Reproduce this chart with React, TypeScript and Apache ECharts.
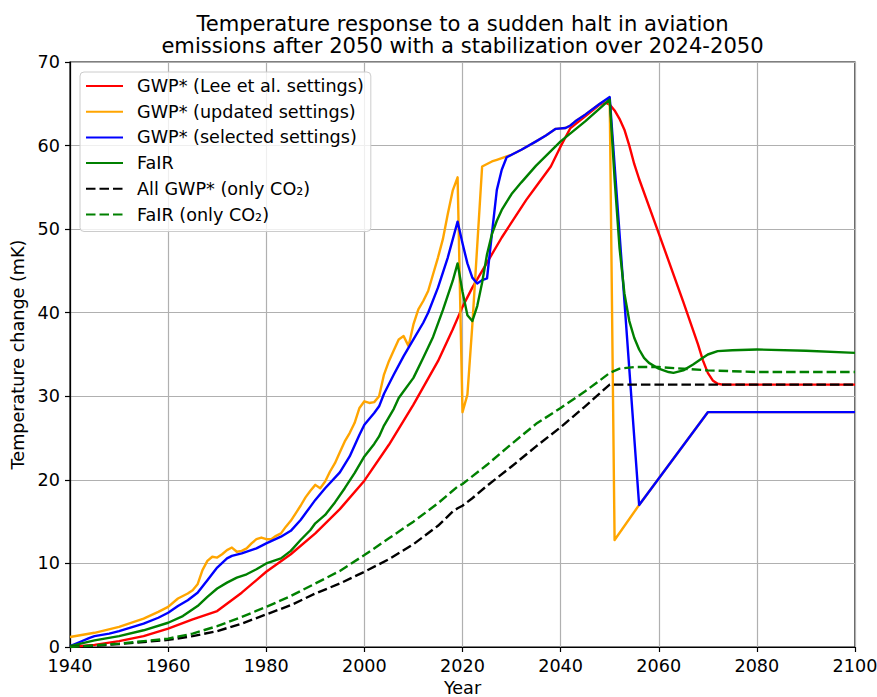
import React, { useEffect, useRef } from "react";
import * as echarts from "echarts";

const FONT = "DejaVu Sans";

const xTicks = { min: 1940, max: 2100, interval: 20 };
const yTicks = { min: 0, max: 70, interval: 10 };

const titleLines = [
  "Temperature response to a sudden halt in aviation",
  "emissions after 2050 with a stabilization over 2024-2050",
];

const seriesNames = [
  "GWP* (Lee et al. settings)",
  "GWP* (updated settings)",
  "GWP* (selected settings)",
  "FaIR",
  "All GWP* (only CO₂)",
  "FaIR (only CO₂)",
];

const leeSettings: [number, number][] = [
  [1940, 0], [1945, 0.25], [1950, 0.7], [1955, 1.3], [1960, 2.2], [1965, 3.3], [1970, 4.3],
  [1975, 6.5], [1980, 9.0], [1985, 11.1], [1990, 13.6], [1995, 16.5], [2000, 19.9],
  [2005, 24.2], [2010, 29.0], [2015, 34.2], [2018, 38.0], [2020, 40.7], [2022, 43.0],
  [2025, 46.0], [2028, 49.0], [2030, 50.8], [2033, 53.5], [2035, 55.1], [2038, 57.5],
  [2040, 59.9], [2042, 62.1], [2045, 63.5], [2048, 64.9], [2049, 65.2], [2050, 64.9],
  [2051, 64.2], [2052, 63.2], [2053, 61.9], [2054, 60.0], [2055, 57.8], [2056, 56.0],
  [2060, 49.5], [2065, 41.3], [2068, 36.2], [2069, 34.3], [2070, 32.8], [2071, 31.9],
  [2072, 31.5], [2073, 31.4], [2100, 31.4],
];

const updatedSettings: [number, number][] = [
  [1940, 1.2], [1945, 1.7], [1950, 2.4], [1955, 3.4], [1958, 4.2], [1960, 4.8], [1962, 5.8],
  [1964, 6.4], [1965, 6.8], [1966, 7.5], [1967, 9.2], [1968, 10.3], [1969, 10.8], [1970, 10.7],
  [1971, 11.1], [1972, 11.6], [1973, 11.9], [1974, 11.4], [1975, 11.5], [1976, 11.8],
  [1977, 12.4], [1978, 12.9], [1979, 13.1], [1980, 12.9], [1981, 12.9], [1982, 13.3],
  [1983, 13.6], [1984, 14.4], [1985, 15.1], [1986, 16.0], [1987, 16.9], [1988, 17.9],
  [1989, 18.7], [1990, 19.4], [1991, 19.0], [1992, 19.8], [1993, 21.0], [1994, 22.0],
  [1995, 23.3], [1996, 24.6], [1997, 25.6], [1998, 26.8], [1999, 28.6], [2000, 29.4],
  [2001, 29.2], [2002, 29.3], [2003, 30.0], [2004, 32.6], [2005, 34.2], [2006, 35.5],
  [2007, 36.8], [2008, 37.2], [2009, 36.0], [2010, 38.6], [2011, 40.4], [2012, 41.4],
  [2013, 42.6], [2014, 44.6], [2015, 46.6], [2016, 48.8], [2017, 51.8], [2018, 54.6],
  [2019, 56.2], [2020, 28.1], [2021, 30.2], [2022, 38.5], [2023, 48.0], [2024, 57.5],
  [2025, 57.8], [2026, 58.1], [2027, 58.3], [2028, 58.5], [2029, 58.7], [2030, 58.9],
  [2032, 59.5], [2035, 60.5], [2037, 61.2], [2039, 62.0], [2041, 62.1], [2042, 62.4],
  [2043, 62.9], [2045, 63.7], [2048, 65.0], [2050, 65.7], [2051, 12.8], [2056, 17.0],
  [2070, 28.1], [2100, 28.1],
];

const selectedSettings: [number, number][] = [
  [1940, 0.1], [1942, 0.6], [1944, 1.1], [1945, 1.3], [1948, 1.6], [1950, 1.9], [1955, 2.8],
  [1958, 3.5], [1960, 4.1], [1962, 4.9], [1964, 5.6], [1966, 6.5], [1968, 8.0], [1970, 9.5],
  [1972, 10.6], [1973, 10.9], [1975, 11.2], [1978, 11.8], [1980, 12.4], [1983, 13.2],
  [1985, 13.9], [1987, 15.2], [1989, 16.8], [1990, 17.6], [1992, 19.0], [1995, 20.9],
  [1997, 22.8], [1999, 25.4], [2000, 26.6], [2002, 28.0], [2003, 28.8], [2004, 30.3],
  [2006, 32.6], [2008, 34.8], [2010, 36.8], [2012, 38.8], [2013, 40.0], [2015, 43.0],
  [2017, 46.6], [2019, 50.9], [2020, 48.3], [2021, 45.9], [2022, 44.2], [2023, 43.5],
  [2024, 43.9], [2025, 44.1], [2026, 49.5], [2027, 54.7], [2028, 57.1], [2029, 58.6],
  [2030, 58.9], [2032, 59.5], [2035, 60.5], [2037, 61.2], [2039, 62.0], [2041, 62.1],
  [2042, 62.4], [2043, 62.9], [2045, 63.7], [2048, 65.0], [2050, 65.8], [2056, 17.0],
  [2070, 28.1], [2100, 28.1],
];

const fair: [number, number][] = [
  [1940, 0.1], [1945, 0.8], [1950, 1.3], [1955, 2.0], [1960, 2.9], [1963, 3.7], [1966, 4.9],
  [1968, 6.0], [1970, 7.0], [1972, 7.7], [1974, 8.3], [1976, 8.7], [1978, 9.3], [1980, 10.0],
  [1983, 10.6], [1985, 11.5], [1987, 12.8], [1989, 14.0], [1990, 14.8], [1992, 15.8],
  [1994, 17.3], [1996, 19.0], [1998, 20.8], [2000, 22.8], [2002, 24.3], [2003, 25.2],
  [2004, 26.5], [2006, 28.5], [2007, 29.8], [2008, 30.6], [2010, 32.2], [2012, 34.6],
  [2014, 37.1], [2016, 40.3], [2018, 43.8], [2019, 45.9], [2020, 42.5], [2021, 39.7],
  [2022, 39.0], [2023, 40.8], [2024, 43.6], [2025, 47.0], [2026, 49.4], [2027, 51.0],
  [2028, 52.3], [2030, 54.2], [2032, 55.6], [2035, 57.6], [2040, 60.5], [2045, 62.9],
  [2050, 65.5], [2051, 56.0], [2052, 47.8], [2053, 42.3], [2054, 39.0], [2055, 37.0],
  [2056, 35.6], [2057, 34.6], [2058, 34.0], [2060, 33.3], [2062, 32.9], [2063, 32.8],
  [2065, 33.1], [2067, 33.8], [2069, 34.6], [2070, 35.0], [2072, 35.4], [2075, 35.5],
  [2080, 35.6], [2090, 35.45], [2100, 35.2],
];

const gwpCO2: [number, number][] = [
  [1940, 0], [1945, 0.15], [1950, 0.35], [1955, 0.6], [1960, 0.85], [1965, 1.3], [1970, 1.9],
  [1975, 2.8], [1980, 3.9], [1985, 5.0], [1990, 6.4], [1995, 7.6], [2000, 9.0], [2005, 10.5],
  [2010, 12.3], [2015, 14.5], [2018, 16.2], [2019, 16.6], [2020, 16.9], [2022, 17.8],
  [2025, 19.3], [2030, 21.6], [2035, 24.0], [2040, 26.3], [2045, 28.8], [2050, 31.4],
  [2100, 31.4],
];

const fairCO2: [number, number][] = [
  [1940, 0], [1945, 0.2], [1950, 0.4], [1955, 0.7], [1960, 1.0], [1965, 1.6], [1970, 2.5],
  [1975, 3.6], [1980, 4.8], [1985, 6.1], [1990, 7.6], [1995, 9.1], [2000, 11.0], [2005, 13.0],
  [2010, 15.0], [2015, 17.2], [2019, 19.2], [2020, 19.5], [2025, 21.8], [2030, 24.3],
  [2035, 26.7], [2040, 28.6], [2045, 30.6], [2048, 31.9], [2050, 32.8], [2052, 33.3],
  [2055, 33.5], [2060, 33.5], [2065, 33.3], [2070, 33.1], [2080, 32.9], [2100, 32.9],
];

const seriesData = [leeSettings, updatedSettings, selectedSettings, fair, gwpCO2, fairCO2];
const seriesColors = ["#ff0000", "#ffa500", "#0000ff", "#008000", "#000000", "#008000"];
const seriesDashed = [false, false, false, false, true, true];

export default function App() {
  const ref = useRef<HTMLDivElement>(null);

  useEffect(() => {
    if (!ref.current) return;
    const chart = echarts.init(ref.current, undefined, { renderer: "svg" });
    const fs = 17.6;
    const titleFs = 21.1;
    const option: any = {
      animation: false,
      backgroundColor: "#ffffff",
      textStyle: { fontFamily: FONT },
      grid: {
        left: 70,
        top: 62,
        width: 785,
        height: 585,
        outerBoundsMode: "none",
        containLabel: false,
        show: true,
        borderColor: "#000",
        borderWidth: 1.2,
        backgroundColor: "transparent",
      },
      graphic: titleLines.map((line, i) => ({
        type: "text",
        x: 462.5,
        y: 23 + i * 22.5,
        z: 10,
        style: {
          text: line,
          fill: "#000",
          font: `${titleFs}px "${FONT}"`,
          textAlign: "center",
          textVerticalAlign: "middle",
        },
      })),
      legend: {
        orient: "vertical",
        left: 80,
        top: 72,
        padding: [5, 7, 8, 5],
        itemWidth: 37,
        itemHeight: 14,
        itemGap: 7.7,
        backgroundColor: "rgba(255,255,255,0.8)",
        borderColor: "#cccccc",
        borderWidth: 1,
        borderRadius: 4,
        itemStyle: { opacity: 0 },
        textStyle: { fontSize: fs, color: "#000", fontFamily: FONT, padding: [0, 0, 0, 9] },
        data: seriesNames,
      },
      xAxis: {
        type: "value",
        min: xTicks.min,
        max: xTicks.max,
        interval: xTicks.interval,
        name: "Year",
        nameLocation: "middle",
        nameGap: 32,
        nameTextStyle: { fontSize: fs, color: "#000", fontFamily: FONT, lineHeight: 17 },
        axisLine: { show: true, onZero: false, lineStyle: { color: "#000", width: 1.2 } },
        axisTick: { show: true, length: 5, lineStyle: { color: "#000", width: 1.2 } },
        axisLabel: {
          fontSize: fs,
          lineHeight: 17,
          color: "#000",
          fontFamily: FONT,
          margin: 10,
          formatter: (v: number) => String(v),
        },
        splitLine: { show: true, lineStyle: { color: "#b0b0b0", width: 1.2 } },
      },
      yAxis: {
        type: "value",
        min: yTicks.min,
        max: yTicks.max,
        interval: yTicks.interval,
        name: "Temperature change (mK)",
        nameLocation: "middle",
        nameGap: 41,
        nameTextStyle: { fontSize: fs, color: "#000", fontFamily: FONT },
        axisLine: { show: true, onZero: false, lineStyle: { color: "#000", width: 1.2 } },
        axisTick: { show: true, length: 5, lineStyle: { color: "#000", width: 1.2 } },
        axisLabel: {
          fontSize: fs,
          lineHeight: 17,
          color: "#000",
          fontFamily: FONT,
          margin: 10,
          formatter: (v: number) => String(v),
        },
        splitLine: { show: true, lineStyle: { color: "#b0b0b0", width: 1.2 } },
      },
      series: seriesNames.map((name, i) => ({
        name,
        type: "line",
        data: seriesData[i],
        symbol: "none",
        showSymbol: false,
        smooth: false,
        color: seriesColors[i],
        lineStyle: {
          color: seriesColors[i],
          width: 2.4,
          type: seriesDashed[i] ? [9.5, 4] : "solid",
          join: "round",
        },
        z: 2 + i,
      })),
    };
    chart.setOption(option);
    return () => chart.dispose();
  }, []);

  return (
    <div
      ref={ref}
      style={{ position: "fixed", left: 0, top: 0, width: 877, height: 697, background: "#fff" }}
    />
  );
}
